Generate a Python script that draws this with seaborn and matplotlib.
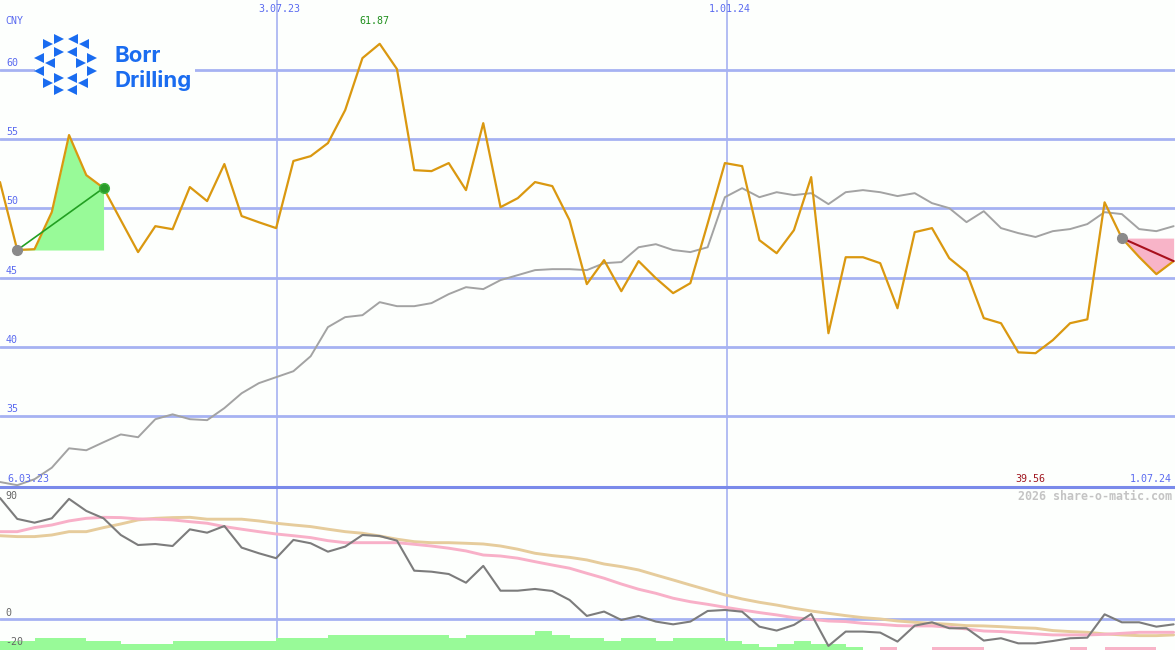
import numpy as np
import matplotlib
matplotlib.use("Agg")
import matplotlib.pyplot as plt
from matplotlib.patches import Rectangle
import seaborn as sns

sns.set_style("white")
plt.rcParams['font.family'] = ['DejaVu Sans Mono']

# weekly closing price (CNY)
price = [51.9, 47.0, 47.06, 49.73, 55.29, 52.40, 51.47, 49.15, 46.85, 48.72,
         48.5, 51.54, 50.53, 53.2, 49.45, 49.0, 48.58, 53.42, 53.77, 54.71,
         57.09, 60.84, 61.87, 60.05, 52.76, 52.69, 53.27, 51.32, 56.15, 50.09,
         50.74, 51.9, 51.61, 49.15, 44.54, 46.27, 44.03, 46.2, 44.97, 43.89,
         44.61, 48.9, 53.27, 53.05, 47.71, 46.77, 48.43, 52.26, 41.0, 46.48,
         46.48, 46.05, 42.8, 48.29, 48.58, 46.41, 45.4, 42.09, 41.72, 39.62,
         39.56, 40.5, 41.72, 42.0, 50.44, 47.86, 46.5, 45.26, 46.2]
# long moving average (grey)
avg_line = [30.27, 30.04, 30.47, 31.3, 32.7, 32.56, 33.14, 33.7, 33.5, 34.8,
            35.15, 34.8, 34.73, 35.6, 36.67, 37.4, 37.83, 38.26, 39.34, 41.44,
            42.16, 42.3, 43.24, 42.95, 42.95, 43.17, 43.82, 44.32, 44.18, 44.83,
            45.19, 45.55, 45.62, 45.62, 45.55, 46.05, 46.13, 47.2, 47.42, 47.0,
            46.85, 47.2, 50.81, 51.46, 50.81, 51.17, 50.96, 51.1, 50.31, 51.17,
            51.32, 51.17, 50.89, 51.1, 50.38, 50.02, 49.01, 49.8, 48.58, 48.22,
            47.94, 48.36, 48.51, 48.87, 49.73, 49.59, 48.51, 48.36, 48.72]
# lower panel: oscillator and its two averages
osc = [83.4, 69, 66.4, 69.4, 82.8, 74.5, 69.4, 57.9, 51, 51.7,
       50.3, 61.8, 59.5, 64.1, 49.2, 45.3, 41.9, 54.5, 52.2, 46.4,
       49.9, 57.9, 57.2, 54, 33.3, 32.6, 31, 25, 36.6, 19.5,
       19.5, 20.7, 19.3, 13.1, 2.1, 5.1, -0.7, 2.1, -1.8, -3.7,
       -1.8, 5.5, 6.2, 5.0, -5.3, -8.0, -4.1, 3.4, -18.6, -8.7,
       -8.7, -9.4, -15.6, -4.6, -2.3, -6.4, -6.4, -14.9, -13.3, -16.8,
       -16.8, -15.2, -13.3, -12.9, 3.2, -2.3, -2.3, -5.3, -3.7]
osc_fast = [60.2, 60.2, 63, 64.8, 67.6, 69.4, 70.1, 69.9, 69, 68.8,
            68.3, 67.1, 66, 63.7, 61.9, 60.2, 58.6, 57.4, 56.1, 54,
            52.6, 52.6, 52.6, 52.6, 51.5, 50.3, 48.8, 46.9, 44.1, 43.4,
            41.9, 39.5, 37.2, 35, 31.5, 28.1, 24.1, 20.5, 17.7, 14.3,
            11.9, 10.1, 8.1, 6.2, 4.4, 2.8, 0.9, -0.2, -1.4, -1.8,
            -3, -3.7, -4.6, -4.8, -4.8, -5.7, -6.9, -8.3, -8.7, -9.4,
            -10.3, -11, -11, -11, -10.6, -9.9, -9.2, -9.2, -9.2]
osc_slow = [57.4, 56.8, 56.8, 57.9, 60.2, 60.2, 63, 65.5, 68.3, 69.4,
            69.9, 70.1, 68.8, 68.8, 68.8, 67.6, 66, 64.8, 63.7, 61.9,
            60.2, 59.1, 57.2, 55, 53.3, 52.6, 52.6, 52.2, 51.7, 50.3,
            48.1, 45.3, 43.7, 42.5, 40.7, 37.9, 36.1, 33.8, 30.3, 26.9,
            23.4, 20, 16.6, 13.8, 11.5, 9.6, 7.4, 5.5, 3.9, 2.3,
            0.9, 0, -1.4, -2.3, -3, -3.7, -4.6, -4.8, -5.3, -6,
            -6.4, -8, -8.7, -9.2, -10.3, -11, -11.5, -11.5, -11]
# histogram (one bar per week interval), relative to its base line
hist = [4.3, 4.3, 6.2, 6.2, 6.2, 4.3, 4.3, 2.1, 2.1, 2.1,
        4.3, 4.3, 4.3, 4.3, 4.3, 4.3, 6.2, 6.2, 6.2, 8.3,
        8.3, 8.3, 8.3, 8.3, 8.3, 8.3, 6.2, 8.3, 8.3, 8.3,
        8.3, 11, 8.3, 6.2, 6.2, 4.1, 6.2, 6.2, 4.1, 6.2,
        6.2, 6.2, 4.1, 2.1, 0.2, 2.1, 4.1, 2.1, 2.1, 0.2,
        0, -1.5, 0, 0, -1.5, -1.5, -1.5, 0, 0, 0,
        0, 0, -1.5, 0, -1.5, -1.5, -1.5, 0]
HIST_BASE = -19.3

y_ticks = [35, 40, 45, 50, 55, 60]
osc_ticks = [90, 0, -20]
grid_weeks = [16.03, 42.1]
grid_labels = ['3.07.23', '1.01.24']
start_label, end_label = '6.03.23', '1.07.24'
rise = (1, 6)        # highlighted up move
fall_start = 65      # highlighted down move, to the last week

BG = '#fdfffd'
GRID = '#a6b2f2'
LABEL = '#5a6af0'
ORANGE = '#da9810'

weeks = np.arange(len(price))

fig = plt.figure(figsize=(11.75, 6.5), dpi=100, facecolor=BG)
ax2 = fig.add_axes([0, 0, 1, 163 / 650])
ax = fig.add_axes([0, 163 / 650, 1, 487 / 650])

for a in (ax, ax2):
    a.set_xlim(0, 68.08)
    a.set_xticks([])
    a.set_yticks([])
    a.patch.set_alpha(0)
    for s in a.spines.values():
        s.set_visible(False)
    for g in grid_weeks:
        a.axvline(g, color=GRID, lw=1.2, zorder=0)

ax.set_ylim(29.91, 65.03)
ax2.set_ylim(-21.4, 91.0)
ax.spines['bottom'].set_visible(True)
ax.spines['bottom'].set_color('#7a8aea')
ax.spines['bottom'].set_linewidth(2.2)

# ---- main panel ----
for t in y_ticks:
    ax.axhline(t, color=GRID, lw=2, zorder=0)
    ax.annotate(str(t), xy=(0, t), xycoords=('axes fraction', 'data'),
                xytext=(6, 2), textcoords='offset pixels',
                fontsize=7.2, color=LABEL, va='bottom')

sns.lineplot(x=weeks, y=avg_line, ax=ax, color='#a3a3a3', lw=1.4, zorder=3)

r0, r1 = rise
ax.fill_between(weeks[r0:r1 + 1], price[r0:r1 + 1], price[r0],
                color='#98fa98', lw=0, zorder=2)
ax.fill_between(weeks[fall_start:], price[fall_start:], price[fall_start],
                color='#f8b4c8', lw=0, zorder=2)

sns.lineplot(x=weeks, y=price, ax=ax, color=ORANGE, lw=1.6, zorder=4)

ax.plot([weeks[r0], weeks[r1]], [price[r0], price[r1]], color='#22a022', lw=1.2, zorder=5)
ax.plot([weeks[fall_start], weeks[-1]], [price[fall_start], price[-1]],
        color='#a8101c', lw=1.5, zorder=5)
ax.plot(weeks[r0], price[r0], 'o', color='#8a8a8a', ms=7, zorder=6)
ax.plot(weeks[r1], price[r1], 'o', color='#2a9a2a', mec='#3cb43c', ms=7, zorder=6)
ax.plot(weeks[fall_start], price[fall_start], 'o', color='#8a8a8a', ms=7, zorder=6)

imax = int(np.argmax(price))
imin = int(np.argmin(price))
ax.annotate(f'{price[imax]:.2f}', xy=(weeks[imax], 1), xycoords=('data', 'axes fraction'),
            xytext=(-5, -21), textcoords='offset pixels', ha='center', va='center',
            fontsize=7.2, color='#20901e')
ax.annotate(f'{price[imin]:.2f}', xy=(weeks[imin], 0), xycoords=('data', 'axes fraction'),
            xytext=(-5, 8), textcoords='offset pixels', ha='center', va='center',
            fontsize=7.2, color='#a01820')

for g, lab in zip(grid_weeks, grid_labels):
    ax.annotate(lab, xy=(g, 1), xycoords=('data', 'axes fraction'),
                xytext=(3, -9), textcoords='offset pixels', ha='center', va='center',
                fontsize=7.2, color=LABEL)
ax.annotate('CNY', xy=(0, 1), xycoords='axes fraction', xytext=(5, -21),
            textcoords='offset pixels', va='center', fontsize=7.2, color=LABEL)
ax.annotate(start_label, xy=(0, 0), xycoords='axes fraction', xytext=(7, 8),
            textcoords='offset pixels', va='center', fontsize=7.2, color=LABEL)
ax.annotate(end_label, xy=(1, 0), xycoords='axes fraction', xytext=(-3, 8),
            textcoords='offset pixels', ha='right', va='center', fontsize=7.2, color=LABEL)

# ---- lower panel ----
ax2.axhline(0, color=GRID, lw=2, zorder=0)
ybot = ax2.get_ylim()[0]
for i, v in enumerate(hist):
    if v > 0:
        ax2.bar(weeks[i], HIST_BASE + v - ybot, width=1, bottom=ybot, align='edge',
                color='#98fa98', lw=0, zorder=1)
    elif v < 0:
        ax2.bar(weeks[i], HIST_BASE - ybot, width=1, bottom=ybot, align='edge',
                color='#f8b4c8', lw=0, zorder=1)

sns.lineplot(x=weeks, y=osc_slow, ax=ax2, color='#e6cc9c', lw=2.1, zorder=2)
sns.lineplot(x=weeks, y=osc_fast, ax=ax2, color='#f8b0c8', lw=2.1, zorder=2)
sns.lineplot(x=weeks, y=osc, ax=ax2, color='#7c7c7c', lw=1.5, zorder=3)

for t in osc_ticks:
    top = t == max(osc_ticks)
    ax2.annotate(str(t), xy=(0, t), xycoords=('axes fraction', 'data'),
                 xytext=(5, -3 if top else 1), textcoords='offset pixels',
                 va='top' if top else 'bottom', fontsize=7.2, color='#666666')
ax2.annotate('2026 share-o-matic.com', xy=(1, 1), xycoords='axes fraction',
             xytext=(-3, -9), textcoords='offset pixels', ha='right', va='center',
             fontsize=8.4, fontweight='bold', color='#c4c4c4')

# ---- logo ----
ov = fig.add_axes([0, 0, 1, 1])
ov.set_xlim(0, 1175)
ov.set_ylim(650, 0)
ov.axis('off')
ov.patch.set_alpha(0)
ov.add_patch(Rectangle((35, 33), 160, 64, color=BG, lw=0))
BLUE = '#1a6cf0'
cx, cy = 65.5, 64.5
tri = [(7, -25.5, True), (18, -20.5, True), (6.5, -12.5, True),
       (26.5, -6.5, False), (15.5, -1.5, False), (26.5, 6.5, False),
       (6.5, 13.5, True), (17.5, 18.5, True), (6.5, 25.5, True)]
for dx, dy, inward in tri:
    ov.plot(cx - dx, cy + dy, marker='>' if inward else '<', color=BLUE, ms=7.5, mew=0)
    ov.plot(cx + dx, cy + dy, marker='<' if inward else '>', color=BLUE, ms=7.5, mew=0)
ov.text(114, 62, 'Borr', family=['Inter', 'DejaVu Sans'], fontweight='bold',
        fontsize=16, color=BLUE, va='baseline')
ov.text(114, 87, 'Drilling', family=['Inter', 'DejaVu Sans'], fontweight='bold',
        fontsize=16, color=BLUE, va='baseline')

fig.savefig('out.png', dpi=100, facecolor=BG)
